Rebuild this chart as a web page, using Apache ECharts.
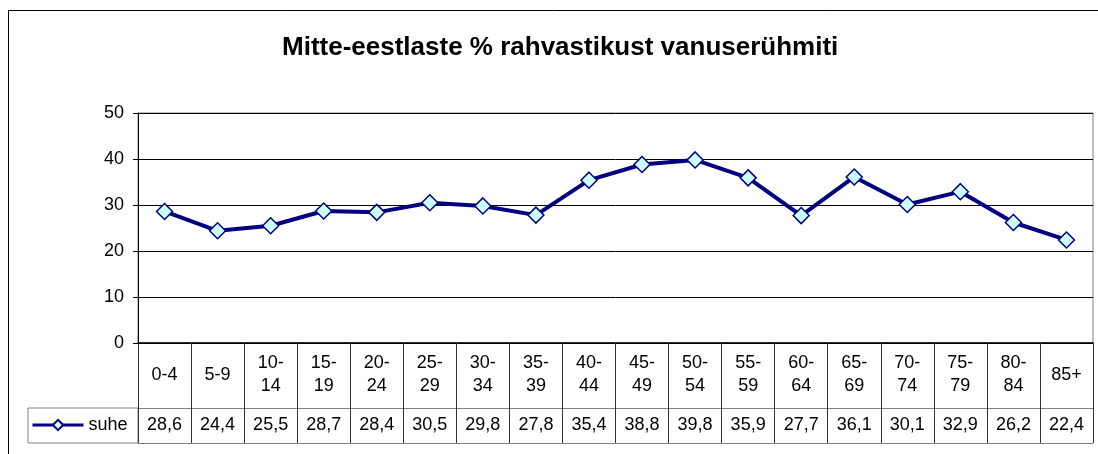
<!DOCTYPE html>
<html>
<head>
<meta charset="utf-8">
<script src="https://cdn.jsdelivr.net/npm/echarts@6/dist/echarts.min.js"></script>
<style>
  html, body { margin: 0; padding: 0; background: #fff; }
  #chart { width: 1098px; height: 454px; }
</style>
</head>
<body>
<div id="chart"></div>
<script>
// vanuserühmad
var categories = ['0-4', '5-9', '10-14', '15-19', '20-24', '25-29', '30-34', '35-39', '40-44',
  '45-49', '50-54', '55-59', '60-64', '65-69', '70-74', '75-79', '80-84', '85+']
// suhe, %
var suhe = [28.6, 24.4, 25.5, 28.7, 28.4, 30.5, 29.8, 27.8, 35.4, 38.8, 39.8, 35.9, 27.7, 36.1, 30.1, 32.9, 26.2, 22.4]
var yTicks = [0, 10, 20, 30, 40, 50]

var font = 'Arial, "Liberation Sans", sans-serif'
var navy = '#000080'

// "10-14" -> "10-\n14", but keep "0-4" and "5-9" on one line
function catLabel(v) {
  var p = v.split('-')
  if (p.length == 2 && p[0].length > 1) return p[0] + '-\n' + p[1]
  return v
}

var chart = echarts.init(document.getElementById('chart'))
var option = {
  animation: false,
  backgroundColor: '#fff',
  title: {
    text: 'Mitte-eestlaste % rahvastikust vanuserühmiti',
    left: 277,
    top: 30,
    textStyle: { fontFamily: font, fontSize: 26, fontWeight: 'bold', color: '#000' }
  },
  legend: {
    data: ['suhe'],
    left: 31,
    top: 416,
    padding: 0,
    itemWidth: 51,
    itemHeight: 13,
    itemGap: 0,
    lineStyle: { width: 3 },
    textStyle: { fontFamily: font, fontSize: 18, color: '#000' }
  },
  grid: {
    left: 138,
    right: 5,
    top: 113,
    bottom: 111,
    show: true,
    borderColor: '#808080',
    borderWidth: 1
  },
  xAxis: [
    {
      type: 'category',
      data: categories,
      boundaryGap: true,
      axisLine: { lineStyle: { color: '#000', width: 1.5 } },
      axisTick: { show: true, length: 65, lineStyle: { color: '#333' } },
      axisLabel: {
        interval: 0,
        margin: 32,
        verticalAlign: 'middle',
        fontFamily: font,
        fontSize: 18,
        lineHeight: 23,
        color: '#000',
        formatter: catLabel
      }
    },
    {
      type: 'category',
      data: categories,
      position: 'bottom',
      offset: 65,
      boundaryGap: true,
      axisLine: { lineStyle: { color: '#808080', width: 1 } },
      axisTick: { show: true, length: 35, lineStyle: { color: '#333' } },
      axisLabel: {
        interval: 0,
        margin: 17,
        verticalAlign: 'middle',
        fontFamily: font,
        fontSize: 18,
        color: '#000',
        formatter: function(v, i) {
          return String(suhe[i]).replace('.', ',')
        }
      }
    },
    {
      type: 'category',
      data: categories,
      position: 'bottom',
      offset: 100,
      axisLine: { lineStyle: { color: '#808080', width: 1 } },
      axisTick: { show: false },
      axisLabel: { show: false }
    }
  ],
  yAxis: {
    type: 'value',
    min: yTicks[0],
    max: yTicks[yTicks.length - 1],
    interval: 10,
    axisLine: { show: true, lineStyle: { color: '#000', width: 1 } },
    axisTick: { show: true, length: 5, lineStyle: { color: '#000' } },
    axisLabel: { margin: 14, fontFamily: font, fontSize: 18, color: '#000' },
    splitLine: { show: true, lineStyle: { color: '#000', width: 1 } }
  },
  graphic: [
    // chart frame (cut off at right and bottom)
    {
      type: 'rect',
      shape: { x: 8.5, y: 10.5, width: 1100, height: 460 },
      style: { fill: 'none', stroke: '#000', lineWidth: 1 },
      silent: true,
      z: -1
    },
    // legend cell on the left of the data table
    {
      type: 'rect',
      shape: { x: 28, y: 408, width: 110, height: 35 },
      style: { fill: 'none', stroke: '#808080', lineWidth: 1 },
      silent: true
    }
  ],
  series: [
    {
      name: 'suhe',
      type: 'line',
      data: suhe,
      xAxisIndex: 0,
      symbol: 'diamond',
      symbolSize: 16,
      lineStyle: { color: navy, width: 4 },
      itemStyle: { color: '#CCFFFF', borderColor: navy, borderWidth: 1.5 }
    }
  ]
}
chart.setOption(option)
window.addEventListener('resize', function() {
  chart.resize()
})
</script>
</body>
</html>
